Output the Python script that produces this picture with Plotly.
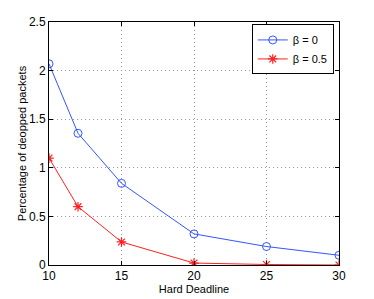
import plotly.graph_objects as go

deadline = [10, 12, 15, 20, 25, 30]
beta0 = [2.07, 1.355, 0.84, 0.32, 0.19, 0.10]
beta05 = [1.10, 0.60, 0.237, 0.02, 0.005, 0.0]

fig = go.Figure()
fig.add_trace(go.Scatter(x=deadline, y=beta0, mode="lines+markers", name="β = 0",
                         line=dict(color="#3355ff", width=1),
                         marker=dict(symbol="circle-open", size=8, color="#3355ff", line=dict(width=1))))
fig.add_trace(go.Scatter(x=deadline, y=beta05, mode="lines+markers", name="β = 0.5",
                         line=dict(color="#ff2020", width=1),
                         marker=dict(symbol="asterisk-open", size=8, color="#ff2020", line=dict(width=1.2))))

axis_common = dict(showline=True, linecolor="black", linewidth=1, mirror="ticks",
                   ticks="inside", ticklen=4, tickcolor="black",
                   showgrid=True, gridcolor="#999999", griddash="1px,3px", gridwidth=1,
                   zeroline=False, automargin=False,
                   tickfont=dict(family="Liberation Sans", size=12, color="black"))

fig.update_layout(
    width=374, height=299,
    margin=dict(l=49, r=35, t=22, b=34, autoexpand=False),
    plot_bgcolor="white", paper_bgcolor="white",
    font=dict(family="Liberation Sans", size=11, color="black"),
    xaxis=dict(range=[10, 30], tickvals=[10, 15, 20, 25, 30],
               title=dict(text="Hard Deadline", standoff=2, font=dict(size=11)), **axis_common),
    yaxis=dict(range=[0, 2.5], tickvals=[0, 0.5, 1, 1.5, 2, 2.5],
               ticktext=["0", "0.5", "1", "1.5", "2", "2.5"],
               title=dict(text="Percentage of deopped packets", standoff=0, font=dict(size=11)), **axis_common),
    legend=dict(x=0.982, y=0.99, xanchor="right", yanchor="top",
                bordercolor="black", borderwidth=1, bgcolor="white",
                font=dict(size=11), tracegroupgap=0, itemwidth=30),
    showlegend=True,
)

fig.write_html("out.html", config={"displayModeBar": False},
               post_script="document.body.style.margin='0';document.body.style.overflow='hidden';")
